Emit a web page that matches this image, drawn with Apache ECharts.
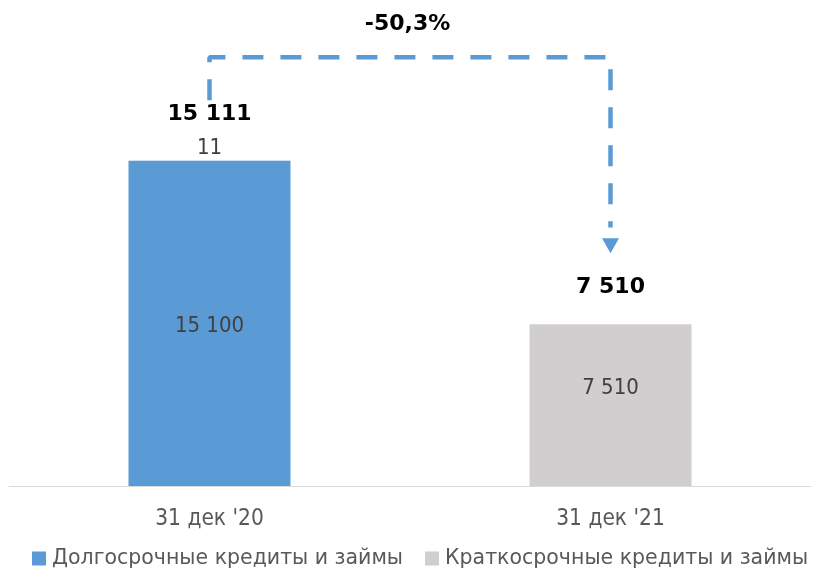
<!DOCTYPE html>
<html>
<head>
<meta charset="utf-8">
<script src="https://cdn.jsdelivr.net/npm/echarts@6/dist/echarts.min.js"></script>
<style>html,body{margin:0;padding:0;background:#fff}#c{width:815px;height:573px}</style>
</head>
<body>
<div id="c"></div>
<script>
const categories = ["31 дек '20", "31 дек '21"];
const longTerm = [15100, 0];
const shortTerm = [11, 7510];
const totals = [15111, 7510];
const changeLabel = '-50,3%';
const seriesNames = ['Долгосрочные кредиты и займы', 'Краткосрочные кредиты и займы'];
// annotation arrow levels (data units): start, bridge, end, head
const arrowLevels = { start: 17900, bridge: 19900, end: 12000, head: 11150 };

const FONT = "'DejaVu Sans Condensed', 'DejaVu Sans', sans-serif";
const FONT_WIDE = "'DejaVu Sans', sans-serif";
const fmt = v => String(v).replace(/\B(?=(\d{3})+(?!\d))/g, ' ');

const chart = echarts.init(document.getElementById('c'), null, { renderer: 'canvas' });
chart.setOption({
  animation: false,
  textStyle: { fontFamily: FONT },
  title: {
    text: changeLabel, left: 'center', top: 8,
    textStyle: { fontFamily: FONT_WIDE, fontSize: 22, fontWeight: 'bold', color: '#000' }
  },
  grid: { left: 9, right: 4, top: 12, bottom: 87 },
  legend: {
    data: seriesNames, top: 543, left: 27, width: 788, padding: 5,
    itemWidth: 14, itemHeight: 14, itemGap: 22,
    icon: 'rect',
    textStyle: { fontFamily: FONT_WIDE, fontSize: 20.5, color: '#595959', padding: [0, 0, 0, 1] }
  },
  xAxis: {
    type: 'category', data: categories,
    axisLine: { lineStyle: { color: '#D9D9D9', width: 1 } },
    axisTick: { show: false },
    axisLabel: { fontFamily: FONT, fontSize: 22.5, color: '#595959', margin: 22 }
  },
  yAxis: { type: 'value', min: 0, max: 22000, show: false, splitLine: { show: false } },
  series: [
    {
      name: seriesNames[0], type: 'bar', stack: 'total', barWidth: 162,
      itemStyle: { color: '#5B9BD5' },
      data: longTerm.map(v => ({
        value: v,
        label: { show: v > 0, position: 'inside', offset: [0, 3],
          formatter: p => fmt(p.value), fontFamily: FONT, fontSize: 22, color: '#404040' }
      }))
    },
    {
      name: seriesNames[1], type: 'bar', stack: 'total', barWidth: 162,
      itemStyle: { color: '#D0CECE' },
      data: shortTerm.map((v, i) => ({
        value: v,
        label: i === 0
          ? { show: true, position: 'top', distance: 1, formatter: p => fmt(p.value),
              fontFamily: FONT, fontSize: 22, color: '#404040' }
          : { show: true, position: 'inside', offset: [0, -17], formatter: p => fmt(p.value),
              fontFamily: FONT, fontSize: 22, color: '#404040' }
      }))
    },
    {
      name: 'totals', type: 'scatter', symbolSize: 0, silent: true,
      itemStyle: { opacity: 1 },
      data: totals.map((v, i) => ({
        value: [i, v],
        label: { show: true, position: 'top', distance: i === 0 ? 35 : 26,
          formatter: p => fmt(p.value[1]), fontFamily: FONT_WIDE, fontSize: 22,
          fontWeight: 'bold', color: '#000000' }
      }))
    },
    {
      name: 'arrow', type: 'line', silent: true, symbol: 'none',
      lineStyle: { color: '#5B9BD5', width: 4.5, type: [21, 17], cap: 'butt' },
      data: [[0, arrowLevels.start], [0, arrowLevels.bridge], [1, arrowLevels.bridge], [1, arrowLevels.end]]
    },
    {
      name: 'arrowHead', type: 'scatter', silent: true, symbol: 'triangle',
      symbolSize: [17, 15], symbolRotate: 180,
      itemStyle: { color: '#5B9BD5', opacity: 1 },
      data: [[1, arrowLevels.head]]
    }
  ]
});
</script>
</body>
</html>
